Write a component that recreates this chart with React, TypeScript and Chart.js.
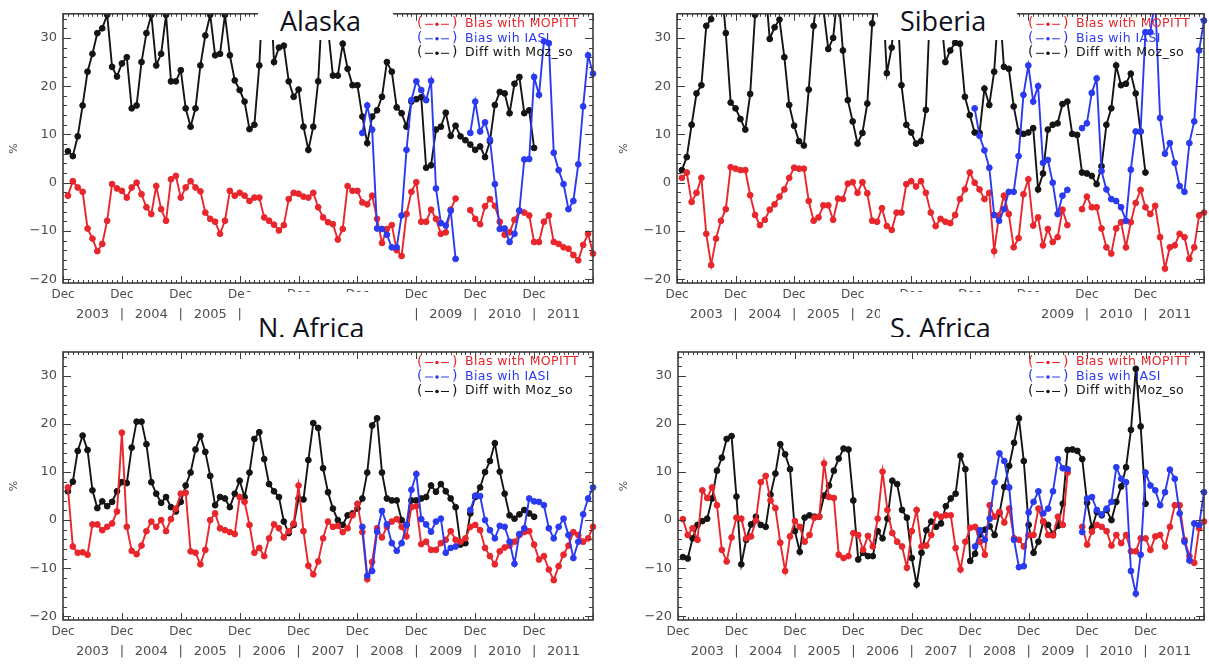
import React, { useEffect, useRef } from 'react';
import { Chart, registerables } from 'chart.js';

Chart.register(...registerables);

// ---------- categories / ticks ----------
const MONTH_NAMES = ['Jan', 'Feb', 'Mar', 'Apr', 'May', 'Jun', 'Jul', 'Aug', 'Sep', 'Oct', 'Nov', 'Dec'];
const MONTH_LABELS: string[] = ['Dec 2002'];
for (let y = 2003; y <= 2011; y++) for (const m of MONTH_NAMES) MONTH_LABELS.push(`${m} ${y}`);
const YEARS = ['2003', '2004', '2005', '2006', '2007', '2008', '2009', '2010', '2011'];
const Y_TICKS = [-20, -10, 0, 10, 20, 30];
const SERIES_LABELS = ['Bias with MOPITT', 'Bias wih IASI', 'Diff with Moz_so'];
const IASI_FIRST_MONTH = 61; // Jan 2008

// ---------- Alaska ----------
const ALASKA_MOPITT = [
  -2.7, 0.3, -1, -1.9, -9.5, -11.6, -14.2, -12.7, -7.9, -0.3,
  -1.2, -1.7, -3.1, -1, 0, -2.4, -5.1, -6.5, -0.7, -5.5,
  -7.9, 0.7, 1.4, -3.1, -1, 0.3, -1, -1.8, -6.2, -7.5,
  -8.1, -10.6, -7.9, -1.7, -2.7, -2.1, -2.7, -3.8, -3.1, -3.1,
  -7.2, -7.9, -8.7, -9.9, -8.8, -3.4, -2.1, -2.3, -2.9, -3.1,
  -2.1, -5.1, -7.2, -8.2, -8.6, -11.8, -9.6, -0.7, -1.7, -1.7,
  -4.1, -4.5, -2.7, -7.5, -12.5, -9.6, -8.8, -14, -15.2, -6.5,
  -1.9, 0.1, -8.1, -8.1, -5.6, -7.5, -10.6, -10.3, -5.6, -3.3,
  null, null, -5.7, -7.5, -8.6, -4.9, -3.4, -4.8, -8.1, -10.8,
  -10.3, -7.7, -5.8, -6.2, -6.8, -12.3, -12.3, -8.1, -6.8, -12.3,
  -12.7, -13.4, -13.7, -15, -16.1, -12.9, -10.6, -14.7,
];
const ALASKA_IASI = [
  10.3, 16, 11, -9.5, -9.6, -10.8, -13.4, -13.4, -6.8, 6.8,
  17.1, 21, 19.2, 17.1, 21.1, -1.2, -8.4, -8.9, -5.8, -15.8,
  null, null, 10.3, 16.8, 10.6, 12.5, 8.9, -0.3, -9.6, -9.5,
  -12.3, -10.6, -5.8, 4.8, 4.9, 21.9, 18.2, 29.3, 28.9, 6.2,
  2.6, -0.3, -5.5, -3.8, 3.8, 15.8, 26.4, 22.6,
];
const ALASKA_MOZ = [
  6.5, 5.5, 9.6, 16, 23, 26.7, 31, 32, 34.8, 24,
  22, 24.7, 26, 15.4, 16, 25, 31, 34.8, 24.3, 26.7,
  34.8, 21, 21, 23.3, 15.4, 11.6, 15.4, 24.3, 30.5, 34.8,
  26.4, 26.7, 34.8, 26.4, 21.2, 19.2, 16.8, 11.1, 12, 24.3,
  45, 45, 25, 28, 28.4, 21, 17.8, 19.3, 11.6, 6.8,
  11.6, 21, 40, 32, 22.2, 22.2, 28.8, 23.6, 20.2, 20.2,
  13.7, 8.2, 13.7, 15, 17.8, 25, 23, 15.6, 14.4, 11.6,
  16.8, 17.3, 17.7, 3.1, 3.6, 11, 11.6, 14.5, 9.7, 11.8,
  9.6, 8.8, 7.9, 6.8, 7.5, 5.3, 8.6, 16.1, 18.8, 18.5,
  14.4, 20.5, 21.9, 14.4, 15, 7.2,
];

// ---------- Siberia ----------
const SIBERIA_MOPITT = [
  1.0, 2.1, -4, -2.1, 1.0, -10.6, -17.1, -11.6, -7.9, -5.5,
  3.2, 2.9, 2.6, 2.6, -2.6, -6.7, -8.8, -7.7, -5.6, -4.5,
  -2.9, -1.4, 1.0, 3.1, 2.9, 2.9, -3.8, -7.9, -7.2, -4.7,
  -4.7, -7.7, -3.3, -3.4, -0.2, 0.1, -2.1, 0.1, -2.2, -7.9,
  -8.1, -5.3, -9.0, -9.8, -6.2, -6.2, -0.3, 0.3, -0.8, 0.3,
  -2.1, -6.2, -9.0, -7.5, -8.1, -8.4, -6.7, -3.4, -1.4, 2.1,
  0, -1.4, -3.4, -2.1, -14.2, -6.8, -2.7, -6.5, -13.4, -11.5,
  -2.4, 0.7, -8.9, -7.2, -13, -9.6, -12.3, -11.3, -5.6, -8.8,
  null, null, -5.5, -2.9, -5.1, -5.1, -9.5, -13.4, -14.7, -9.5,
  -8.2, -13.4, -8.2, -4.2, -1.5, -5.1, -6.5, -4.8, -11.3, -17.8,
  -13.4, -13, -10.6, -11.3, -15.8, -13.4, -6.8, -6.2,
];
const SIBERIA_IASI = [
  15.4, 9.7, 6.7, 3.1, -6.7, -7.9, -5.5, -1.9, -1.9, 5.5,
  18.2, 24.3, 16.8, 20, 4.1, 4.7, 0, -6.5, -2.7, -1.5,
  null, null, 11.3, 12.3, 18.6, 21.6, 2.4, -1.4, -3.4, -3.8,
  -5.1, -7.9, 2.7, 10.6, 10.6, 31.2, 31.2, 38, 13.4, 6,
  8.2, 4.1, -0.7, -1.9, 8.2, 12.7, 27.4, 33.6,
];
const SIBERIA_MOZ = [
  2.6, 5.3, 12, 18.5, 20.2, 32.5, 33.9, 42, 42, 31,
  16.6, 15.4, 13.2, 11, 18.4, 34.8, 42, 42, 29.8, 32.2,
  33.8, 26, 16.1, 11.8, 8.6, 7.7, 19.3, 32.5, 42, 36,
  27.7, 30, 40, 27.4, 17.1, 12.7, 8.1, 10.3, 16.4, 33,
  42, 42, 22.7, 28, 40, 20.2, 12, 10.4, 8.1, 8.6,
  15.1, 40, 42, 36, 25, 27.4, 29, 28.8, 17.8, 14,
  10.4, 10.3, 19.5, 16.1, 23, 38, 24, 23.6, 15.8, 10.6,
  10.1, 10.4, 11.3, -1.4, 1.9, 11, 12, 12.3, 16.3, 16.8,
  10.1, 9.9, 2.1, 1.9, 1.4, -0.3, 3.4, 12, 15.4, 24.3,
  20.2, 20.5, 22.6, 18.5, 10.6, 2.1,
];

// ---------- N. Africa ----------
const NAFRICA_MOPITT = [
  6.8, -5.5, -6.8, -6.7, -7.2, -0.9, -0.9, -2.1, -1.4, -0.7,
  1.8, 18.2, -1.4, -6.4, -7.1, -5.3, -2.3, -0.3, -1.4, 0,
  -2.3, 0.2, 2.4, 5.5, 5.7, -6.5, -6.8, -9.2, -6.2, 0,
  1.4, -1.7, -2.1, -2.5, -2.9, 4.8, 3.8, -1, -6.8, -5.8,
  -7.5, -3.8, -0.9, -1.7, -3.6, -2.3, -0.7, 7.2, -2.3, -9.5,
  -11.3, -8.6, -3.8, -0.3, -1.4, -1.2, -2.5, -1.7, 1, 3.4,
  -2.5, -12.3, -8.7, -1.7, -3.6, -1.4, -0.3, 0.2, -1.4, -3.4,
  2.7, 2.9, -5, -4.5, -6.2, -6.2, -4.8, -4.1, -2.3, -4.1,
  -4.5, -3.8, -1.4, -1, -2.1, -5.8, -7.5, -9.2, -6.5, -5.7,
  -5.3, -4.5, -3.1, -2.5, -2.3, -5.1, -8.2, -7.5, -10.3, -12.5,
  -9.6, -7.2, -5.3, -2.5, -3.1, -4.5, -3.8, -1.4,
];
const NAFRICA_IASI = [
  -1.4, -11.6, -10.6, -2.4, 1.9, -0.9, -4.8, -6.4, -4.8, -1,
  6.3, 9.6, 0.2, -0.9, -2.4, -0.3, 0.3, -6.8, -5.8, -5.5,
  null, null, 2.1, 5.1, 5, 0, -2.1, -3.8, -1.2, -1.4,
  -4.5, -9.1, -2.9, -1.7, 4.5, 3.9, 3.8, 3.1, -1.7, -3.8,
  -1.4, 0.3, -3.1, -7.9, -4.5, 1.2, 4.5, 6.8,
];
const NAFRICA_MOZ = [
  6, 8, 14.4, 17.6, 14.6, 6.2, 2.5, 3.9, 2.9, 3.8,
  6, 7.9, 7.7, 15.1, 20.5, 20.5, 15.8, 7.9, 5.5, 3.6,
  4.8, 2.7, 1.8, 3.8, 7.2, 9.9, 14.7, 17.5, 14.2, 9.2,
  3.1, 4.8, 4.5, 2.7, 5.5, 8.2, 4.8, 9.9, 16.9, 18.3,
  12.7, 7.5, 6, 4.8, -0.3, -2.7, -1, 4.5, 4.3, 12.5,
  20.2, 19.2, 10.8, 5.8, 2.4, 0, -1, 1, 1.4, 2.4,
  4.5, 9.9, 19.7, 21.2, 9.9, 4.5, 4.1, 4.1, 0, -1,
  4.1, 4.1, 4.5, 4.8, 7.2, 5.9, 7.5, 6, 4.5, 2.7,
  -5.1, -4.8, 1.4, 4.8, 6.8, 10, 12.3, 16, 10.1, 5.5,
  1, 0.3, 1.2, 2.1, 1.4, 0.7,
];

// ---------- S. Africa ----------
const SAFRICA_MOPITT = [
  0.2, -3.1, -1.7, -4.1, 6.2, 4.6, 6.8, 3.1, -6.2, -8.6,
  -3.6, 0.5, 0.3, -3.8, -3.4, -0.1, 7.9, 9.2, 4.1, 2.5,
  -4.7, -10.6, -3.4, -0.2, -1.4, -4.5, -3.1, 0.5, 0.7, 11.8,
  4.8, 4.6, -7.2, -7.9, -7.5, -2.7, -3.1, -6.2, -3.3, -5.5,
  0.3, 10.1, 2.1, -2.7, -4.5, -5.5, -9.9, -2.3, 2.1, -5.5,
  -5.3, -3.1, 1.2, 0.7, 1, 1, -5.8, -10.3, -4.5, -1.6,
  -1.4, -4.5, -7.2, 3.1, 0.7, 1.7, -0.5, 2.4, -3.8, -4.1,
  -5.5, -3.1, -3.1, 2.4, -0.3, -3.1, -3.2, 0.7, -1, 9.9,
  null, null, -1.4, -5.1, -2.4, -1, -1.4, -2.3, -5.3, -3.1,
  -4.8, -3.1, -6.5, -6.5, -3.8, -3.8, -6.2, -3.4, -3.1, -5.5,
  -1.4, 3.1, 3.1, -4.1, -7.5, -8.9, -1.7, -0.3,
];
const SAFRICA_IASI = [
  -5.5, -2.1, -4.1, 0.3, 7.9, 13.9, 12.3, 6.8, -4.1, -9.8,
  -9.6, 1.6, 3.8, 6, 1.4, 2.4, 6, 12.7, 10.8, 10.6,
  null, null, -2.5, 4.5, 4.8, 2.1, 1.2, 2.4, 3.8, 11,
  8.6, 7.9, -10.6, -15.3, -7.2, 9.9, 7.2, 6.2, 3.1, 5.8,
  10.5, 8.6, 1.4, -4.5, -8.4, -0.7, -1, 5.8,
];
const SAFRICA_MOZ = [
  -7.7, -8, -3.8, -1, -0.2, 0.3, 4.5, 10.3, 13, 16.9,
  17.5, 4.9, -9.2, -4.1, -0.9, 0.7, -1, -1.4, 5.3, 9.7,
  15.8, 13.7, 10.6, -2.3, -6.6, 0.5, 1, 0.7, 0.7, 5.1,
  7.2, 10.3, 12.8, 14.9, 14.7, 4.1, -8.2, -6.8, -7.5, -7.5,
  -2.3, -3.8, 0.3, 8.2, 7.5, 2.1, 0.5, -7.9, -13.4, -6.8,
  -2.1, -0.3, -1.4, -0.7, 2.9, 4.5, 5.5, 13.4, 10.6, -8.5,
  -7, -3, -2, -1.3, -3.1, 1.4, 6.9, 11.3, 16.1, 21.2,
  12.3, -1, -6.8, -4.5, -0.3, -1, -2.9, -1.2, 3.4, 14.6,
  14.7, 14.4, 12.7, 3.6, -1.7, 1.7, 1, 2.1, 0, 3.8,
  7, 11, 18.8, 31.5, 19.5, 3.4,
];

// ---------- styling ----------
const RED = '#e8262b';
const BLUE = '#2a3af0';
const BLACK = '#141414';
const TICK_COLOR = '#4d4d4d';
const FRAME_COLOR = '#3c3c3c';
const AXIS_FONT = '"DejaVu Sans", "Liberation Sans", sans-serif';

const idlFrame = {
  id: 'idlFrame',
  afterDraw(chart: any) {
    const { ctx, chartArea: a, scales } = chart;
    const xs = scales.x;
    const ys = scales.y;
    ctx.save();
    ctx.strokeStyle = FRAME_COLOR;
    ctx.lineWidth = 1.6;
    ctx.strokeRect(a.left, a.top, a.right - a.left, a.bottom - a.top);
    ctx.lineWidth = 1;
    ctx.beginPath();
    for (let i = 0; i < MONTH_LABELS.length; i++) {
      const px = Math.round(xs.getPixelForValue(i)) + 0.5;
      const len = i % 12 === 0 ? 7 : 3;
      ctx.moveTo(px, a.bottom);
      ctx.lineTo(px, a.bottom - len);
      ctx.moveTo(px, a.top);
      ctx.lineTo(px, a.top + len);
    }
    for (let v = -20; v <= 34; v += 2) {
      const py = Math.round(ys.getPixelForValue(v)) + 0.5;
      const len = v % 10 === 0 ? 8 : 4;
      ctx.moveTo(a.left, py);
      ctx.lineTo(a.left + len, py);
      ctx.moveTo(a.right, py);
      ctx.lineTo(a.right - len, py);
    }
    ctx.stroke();
    ctx.restore();
  },
};

const insideLegend = {
  id: 'insideLegend',
  afterDraw(chart: any) {
    const { ctx, chartArea: a } = chart;
    const x0 = a.right - 176;
    ctx.save();
    ctx.textBaseline = 'middle';
    ctx.textAlign = 'left';
    chart.data.datasets.forEach((ds: any, k: number) => {
      const y = a.top + 10 + k * 14.5;
      const c = ds.borderColor;
      ctx.fillStyle = c;
      ctx.strokeStyle = c;
      ctx.font = `14px ${AXIS_FONT}`;
      ctx.fillText('(', x0, y);
      ctx.fillText(')', x0 + 35, y);
      ctx.lineWidth = 1;
      ctx.beginPath();
      ctx.moveTo(x0 + 8, y + 0.5);
      ctx.lineTo(x0 + 16, y + 0.5);
      ctx.moveTo(x0 + 24, y + 0.5);
      ctx.lineTo(x0 + 32, y + 0.5);
      ctx.stroke();
      ctx.beginPath();
      ctx.arc(x0 + 20, y + 0.5, 1.8, 0, Math.PI * 2);
      ctx.fill();
      ctx.font = `12.5px ${AXIS_FONT}`;
      try { (ctx as any).letterSpacing = '0.4px'; } catch (e) {}
      ctx.fillText(ds.label, x0 + 48, y);
      try { (ctx as any).letterSpacing = '0px'; } catch (e) {}
    });
    ctx.restore();
  },
};

type Series = (number | null)[];

interface PanelProps {
  left: number;
  top: number;
  width: number;
  height: number;
  padTop: number;
  padRight: number;
  yWidth: number;
  x2Height: number;
  titlePad: number;
  mopitt: Series;
  iasi: Series;
  moz: Series;
}

function makeDataset(label: string, data: Series, color: string, order: number) {
  return {
    label,
    data,
    borderColor: color,
    backgroundColor: color,
    pointBackgroundColor: color,
    pointBorderColor: color,
    pointRadius: 2.9,
    pointBorderWidth: 1,
    borderWidth: 1.9,
    tension: 0,
    spanGaps: false,
    order,
  };
}

function Panel(p: PanelProps) {
  const ref = useRef<HTMLCanvasElement | null>(null);
  useEffect(() => {
    if (!ref.current) return;
    const iasiFull: Series = [null, ...Array(IASI_FIRST_MONTH - 1).fill(null), ...p.iasi];
    const chart = new Chart(ref.current, {
      type: 'line',
      data: {
        labels: MONTH_LABELS,
        datasets: [
          makeDataset(SERIES_LABELS[0], [null, ...p.mopitt], RED, 1),
          makeDataset(SERIES_LABELS[1], iasiFull, BLUE, 0),
          makeDataset(SERIES_LABELS[2], [null, ...p.moz], BLACK, 2),
        ] as any,
      },
      options: {
        animation: false,
        responsive: false,
        maintainAspectRatio: false,
        events: [],
        layout: { padding: { left: 0, right: p.padRight, top: p.padTop, bottom: 0 } },
        plugins: { legend: { display: false }, tooltip: { enabled: false } },
        scales: {
          x: {
            type: 'category',
            position: 'bottom',
            weight: 0,
            offset: false,
            grid: { display: false, drawTicks: false },
            border: { display: false },
            ticks: {
              autoSkip: false,
              maxRotation: 0,
              minRotation: 0,
              padding: 5,
              color: TICK_COLOR,
              font: { family: AXIS_FONT, size: 12 },
              callback: (_v: any, i: number) => (i % 12 === 0 && i <= 96 ? 'Dec' : ''),
            },
            afterFit: (s: any) => { s.height = 20; },
          },
          x2: {
            type: 'category',
            position: 'bottom',
            weight: 1,
            offset: false,
            grid: { display: false, drawTicks: false },
            border: { display: false },
            ticks: {
              autoSkip: false,
              maxRotation: 0,
              minRotation: 0,
              padding: 4,
              color: TICK_COLOR,
              font: { family: AXIS_FONT, size: 13 },
              callback: (_v: any, i: number) => {
                if (i % 12 === 6) return YEARS[(i - 6) / 12] ?? '';
                if (i % 12 === 0 && i >= 12 && i <= 96) return '|';
                return '';
              },
            },
            afterFit: (s: any) => { s.height = p.x2Height; },
          },
          y: {
            type: 'linear',
            min: -20.8,
            max: 35,
            grid: { display: false, drawTicks: false },
            border: { display: false },
            afterBuildTicks: (s: any) => { s.ticks = Y_TICKS.map((v) => ({ value: v })); },
            ticks: {
              padding: 6,
              color: TICK_COLOR,
              font: { family: AXIS_FONT, size: 13 },
              callback: (v: any) => (Number(v) < 0 ? '\u2212' + Math.abs(Number(v)) : String(v)),
            },
            title: {
              display: true,
              text: '%',
              color: TICK_COLOR,
              font: { family: AXIS_FONT, size: 11 },
              padding: { top: p.titlePad, bottom: 0 },
            },
            afterFit: (s: any) => { s.width = p.yWidth; },
          },
        },
      } as any,
      plugins: [idlFrame, insideLegend],
    });
    return () => chart.destroy();
  }, []);
  return (
    <canvas
      ref={ref}
      width={p.width}
      height={p.height}
      style={{ position: 'absolute', left: p.left, top: p.top, width: p.width, height: p.height }}
    />
  );
}

const TITLE_FONT = '"Open Sans", "Noto Sans", sans-serif';

function RegionLabel(props: { text: string; left: number; top: number; width: number; height: number; textLeft: number; textTop: number }) {
  return (
    <div
      style={{
        position: 'absolute',
        left: props.left,
        top: props.top,
        width: props.width,
        height: props.height,
        background: '#ffffff',
        overflow: 'hidden',
        zIndex: 5,
      }}
    >
      <span
        style={{
          position: 'absolute',
          left: props.textLeft,
          top: props.textTop,
          fontFamily: TITLE_FONT,
          fontSize: 27,
          lineHeight: '27px',
          color: '#10101c',
          whiteSpace: 'nowrap',
        }}
      >
        {props.text}
      </span>
    </div>
  );
}

export default function App() {
  return (
    <div
      style={{
        position: 'fixed',
        left: 0,
        top: 0,
        width: 1209,
        height: 664,
        overflow: 'hidden',
        background: '#ffffff',
      }}
    >
      <Panel left={0} top={0} width={600} height={330} padTop={13} padRight={7} yWidth={63} x2Height={27} titlePad={8}
        mopitt={ALASKA_MOPITT} iasi={ALASKA_IASI} moz={ALASKA_MOZ} />
      <Panel left={614} top={0} width={595} height={330} padTop={13} padRight={2} yWidth={63} x2Height={27} titlePad={4}
        mopitt={SIBERIA_MOPITT} iasi={SIBERIA_IASI} moz={SIBERIA_MOZ} />
      <Panel left={0} top={337} width={600} height={327} padTop={15} padRight={7} yWidth={63} x2Height={24} titlePad={8}
        mopitt={NAFRICA_MOPITT} iasi={NAFRICA_IASI} moz={NAFRICA_MOZ} />
      <Panel left={614} top={337} width={595} height={327} padTop={15} padRight={2} yWidth={64} x2Height={24} titlePad={4}
        mopitt={SAFRICA_MOPITT} iasi={SAFRICA_IASI} moz={SAFRICA_MOZ} />

      <RegionLabel text="Alaska" left={258} top={0} width={135} height={40} textLeft={22} textTop={7} />
      <RegionLabel text="Siberia" left={878} top={0} width={139} height={40} textLeft={22} textTop={7} />
      <RegionLabel text="N. Africa" left={245} top={292} width={158} height={45} textLeft={13} textTop={22} />
      <RegionLabel text="S. Africa" left={880} top={292} width={160} height={45} textLeft={10} textTop={22} />
    </div>
  );
}
